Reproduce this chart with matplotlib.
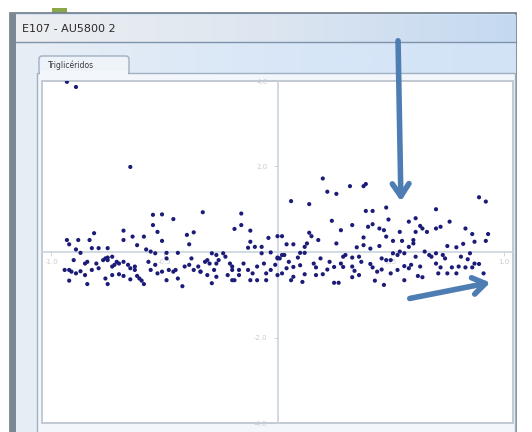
import numpy as np
import matplotlib.pyplot as plt
from matplotlib.patches import Rectangle, FancyBboxPatch

# values (x spans roughly -1..1, y in the chart units)
x_vals = [
    -0.93, -0.89, -0.65,
    -0.93, -0.92, -0.88, -0.83, -0.81, -0.89, -0.87, -0.82, -0.79, -0.75,
    -0.68, -0.68, -0.64, -0.59, -0.62, -0.58, -0.55, -0.51, -0.55, -0.53,
    -0.46, -0.51, -0.56, -0.54, -0.49, -0.44, -0.40, -0.37, -0.39, -0.33,
    -0.16, -0.16, -0.19, -0.12, -0.12, -0.10, -0.07, -0.04, 0.00, -0.13,
    -0.07, -0.03, 0.00,
    -0.90, -0.92, -0.94, -0.91, -0.89, -0.87, -0.85, -0.84, -0.85, -0.92,
    -0.84, -0.82, -0.80, -0.79, -0.77, -0.76, -0.75, -0.75, -0.73, -0.71,
    -0.70, -0.68, -0.66, -0.65, -0.63, -0.63, -0.73, -0.72, -0.76, -0.75,
    -0.73, -0.70, -0.68, -0.65, -0.62, -0.61, -0.59, -0.60, -0.57, -0.56,
    -0.54, -0.53, -0.51, -0.49, -0.48, -0.46, -0.45, -0.49, -0.44, -0.42,
    -0.41, -0.39, -0.38, -0.37, -0.35, -0.34, -0.32, -0.31, -0.30, -0.29,
    -0.27, -0.27, -0.26, -0.24, -0.23, -0.21, -0.20, -0.20, -0.28, -0.27,
    -0.29, -0.31, -0.34, -0.22, -0.20, -0.19, -0.17, -0.17, -0.15, -0.13,
    -0.11, -0.09, -0.06, -0.05, -0.03, -0.01, 0.00, -0.12, -0.09, -0.05,
    0.00,
    0.20, 0.22, 0.26, 0.06, 0.14, 0.24, 0.28, 0.14, 0.15, 0.18,
    0.02, 0.04, 0.07, 0.12, 0.13, 0.12, 0.26,
    0.02, 0.03, 0.05, 0.10, 0.09, 0.07, 0.10, 0.16, 0.17, 0.19,
    0.23, 0.22, 0.25, 0.28, 0.29, 0.30, 0.06, 0.07, 0.11, 0.12,
    0.17, 0.20, 0.25, 0.27, 0.29, 0.04, 0.01, 0.02,
    0.32, 0.38, 0.39, 0.39, 0.42, 0.48, 0.49, 0.33, 0.40, 0.42,
    0.45, 0.47, 0.48, 0.51, 0.55, 0.54, 0.58, 0.61, 0.63, 0.64,
    0.66, 0.70, 0.72, 0.76, 0.70, 0.61, 0.60, 0.60, 0.83, 0.86,
    0.93, 0.92, 0.87, 0.89, 0.92, 0.75, 0.82, 0.79, 0.45, 0.38,
    0.35, 0.38, 0.41,
    0.33, 0.36, 0.37, 0.33, 0.34, 0.36, 0.33, 0.41, 0.42, 0.44,
    0.46, 0.43, 0.47, 0.50, 0.51, 0.53, 0.54, 0.56, 0.58, 0.59,
    0.56, 0.53, 0.62, 0.64, 0.63, 0.65, 0.67, 0.68, 0.70, 0.73,
    0.74, 0.70, 0.72, 0.71, 0.75, 0.77, 0.79, 0.81, 0.84, 0.85,
    0.87, 0.89, 0.91, 0.83, 0.86, 0.80, 0.61, 0.56, 0.58, 0.48,
    0.46, 0.50,
]
y_vals = [
    3.98, 3.86, 1.99,
    0.28, 0.18, 0.28, 0.28, 0.44, 0.06, -0.02, 0.09, 0.09, 0.09,
    0.50, 0.28, 0.36, 0.36, 0.16, 0.06, 0.87, 0.88, 0.63, 0.47,
    0.77, 0.26, 0.01, -0.03, -0.02, -0.02, 0.40, 0.46, 0.18, 0.93,
    0.90, 0.63, 0.54, 0.50, 0.24, 0.12, 0.12, 0.33, 0.37, 0.10,
    -0.03, -0.01, -0.13,
    -0.19, -0.42, -0.42, -0.46, -0.50, -0.45, -0.27, -0.23, -0.54, -0.67,
    -0.75, -0.42, -0.27, -0.38, -0.19, -0.15, -0.19, -0.13, -0.11, -0.23,
    -0.27, -0.23, -0.30, -0.38, -0.34, -0.42, -0.34, -0.30, -0.62, -0.75,
    -0.54, -0.52, -0.56, -0.64, -0.56, -0.62, -0.75, -0.67, -0.23, -0.42,
    -0.30, -0.50, -0.46, -0.15, -0.42, -0.46, -0.42, -0.66, -0.62, -0.80,
    -0.34, -0.30, -0.15, -0.42, -0.34, -0.46, -0.23, -0.19, -0.27, -0.03,
    -0.07, -0.27, -0.19, -0.03, -0.11, -0.27, -0.34, -0.42, -0.42, -0.58,
    -0.73, -0.54, -0.46, -0.54, -0.66, -0.66, -0.54, -0.42, -0.27, -0.42,
    -0.50, -0.34, -0.27, -0.50, -0.42, -0.30, -0.54, -0.66, -0.66, -0.66,
    -0.15,
    1.72, 1.41, 1.36, 1.19, 1.12, 0.73, 0.51, 0.45, 0.37, 0.28,
    0.37, 0.18, 0.18, 0.12, 0.20, -0.02, 0.20,
    -0.07, -0.07, -0.23, -0.02, -0.13, -0.35, -0.31, -0.27, -0.36, -0.15,
    -0.23, -0.41, -0.35, -0.27, -0.11, -0.07, -0.66, -0.58, -0.70, -0.52,
    -0.54, -0.52, -0.72, -0.72, -0.35, -0.38, -0.15, -0.50,
    1.54, 1.54, 1.59, 0.96, 0.96, 1.04, 0.76, 0.63, 0.59, 0.65,
    0.55, 0.51, 0.36, 0.26, 0.26, 0.47, 0.71, 0.79, 0.61, 0.55,
    0.47, 0.55, 0.59, 0.71, 1.00, 0.47, 0.28, 0.20, 0.55, 0.42,
    0.42, 0.26, 0.24, 1.28, 1.18, 0.14, 0.19, 0.11, 0.14, 0.34,
    0.11, 0.16, 0.08,
    -0.13, -0.11, -0.23, -0.34, -0.44, -0.54, -0.59, -0.28, -0.36, -0.46,
    -0.41, -0.67, -0.77, -0.50, -0.03, -0.07, 0.01, -0.33, -0.38, -0.30,
    -0.66, -0.42, -0.56, -0.59, -0.34, 0.01, -0.07, -0.11, -0.03, -0.07,
    -0.15, -0.27, -0.36, -0.50, -0.50, -0.36, -0.50, -0.11, -0.17, -0.03,
    -0.27, -0.28, -0.50, -0.36, -0.36, -0.34, -0.11, -0.03, 0.12, -0.19,
    -0.15, -0.19,
]

y_ticks = [-4, -2, 2, 4]
y_tick_labels = ["-4.0", "-2.0", "2.0", "4.0"]
x_ticks = [-1.0, -0.5, 0.5, 1.0]
x_tick_labels = ["-1.0", "-0.5", "0.5", "1.0"]

W, H = 532, 432
fig = plt.figure(figsize=(W / 100, H / 100), dpi=100)
fig.patch.set_facecolor("white")

# window chrome drawn in pixel coordinates
bg = fig.add_axes([0, 0, 1, 1])
bg.set_xlim(0, W)
bg.set_ylim(H, 0)
bg.axis("off")

bg.add_patch(Rectangle((52, 8), 15, 7, color="#8aa848", lw=0))
bg.add_patch(Rectangle((10, 13), 506, 420, facecolor="#d3e3f5", edgecolor="#6f7c88", lw=1.2))
bg.add_patch(Rectangle((10, 13), 6, 420, color="#7c8894", lw=0))

# title bar gradient
grad = np.linspace(0, 1, 256).reshape(1, -1)
bg.imshow(grad, extent=(16, 516, 42, 15), cmap=plt.matplotlib.colors.LinearSegmentedColormap.from_list(
    "tb", ["#edeff2", "#dde6f0", "#c4d9f1"]), aspect="auto", zorder=1)
bg.plot([16, 516], [42, 42], color="#7f94ab", lw=1, zorder=2)
bg.text(22, 29, "E107 - AU5800 2", fontsize=8, color="#2a2a2a", va="center", ha="left", zorder=3)

# content area below title
bg.imshow(grad, extent=(16, 516, H, 43), cmap=plt.matplotlib.colors.LinearSegmentedColormap.from_list(
    "ct", ["#e8eef5", "#d9e7f7", "#d2e3f7"]), aspect="auto", zorder=1)

# tab panel
bg.add_patch(Rectangle((37, 73), 478, 360, facecolor="#f3f7fc", edgecolor="#9fb0c2", lw=1, zorder=2))
bg.add_patch(FancyBboxPatch((39, 56), 90, 18, boxstyle="round,pad=0,rounding_size=3",
                            facecolor="#eef3fa", edgecolor="#9fb0c2", lw=1, zorder=3))
bg.add_patch(Rectangle((40, 71), 88, 4, color="#f3f7fc", lw=0, zorder=4))
bg.text(48, 65, "Triglicéridos", fontsize=5.5, color="#3a3a3a", va="center", ha="left", zorder=5)
bg.add_patch(Rectangle((42, 81), 471, 342, facecolor="white", edgecolor="#b7c0ca", lw=1.2, zorder=3))

# scatter axes
ax = fig.add_axes([42 / W, 1 - 423 / H, 471 / W, 342 / H])
ax.set_facecolor("none")
ax.scatter(x_vals, y_vals, s=9, color="#1c1c78", edgecolors="none", zorder=3)
ax.set_xlim(-1.04, 1.04)
ax.set_ylim(-4, 4)

for side in ["top", "right"]:
    ax.spines[side].set_visible(False)
ax.spines["left"].set_position("zero")
ax.spines["bottom"].set_position("zero")
ax.spines["left"].set_color("#c9d3de")
ax.spines["bottom"].set_color("#c9d3de")
ax.spines["left"].set_linewidth(1.2)
ax.spines["bottom"].set_linewidth(1.2)

ax.set_yticks(y_ticks)
ax.set_yticklabels(y_tick_labels)
ax.set_xticks(x_ticks)
ax.set_xticklabels(x_tick_labels)
ax.tick_params(colors="#c6ccd3", labelsize=5, length=3, width=0.6, direction="out")
ax.tick_params(axis="y", pad=4)
ax.tick_params(axis="x", pad=2)

# blue arrows added over the screenshot
bg.annotate("", xy=(401, 204), xytext=(398, 38),
            arrowprops=dict(arrowstyle="->,head_length=0.9,head_width=0.6", color="#4d7db3", lw=4),
            zorder=6)
bg.annotate("", xy=(493, 282), xytext=(407, 299),
            arrowprops=dict(arrowstyle="->,head_length=0.9,head_width=0.6", color="#4d7db3", lw=4),
            zorder=6)

fig.savefig("out.png", dpi=100)
